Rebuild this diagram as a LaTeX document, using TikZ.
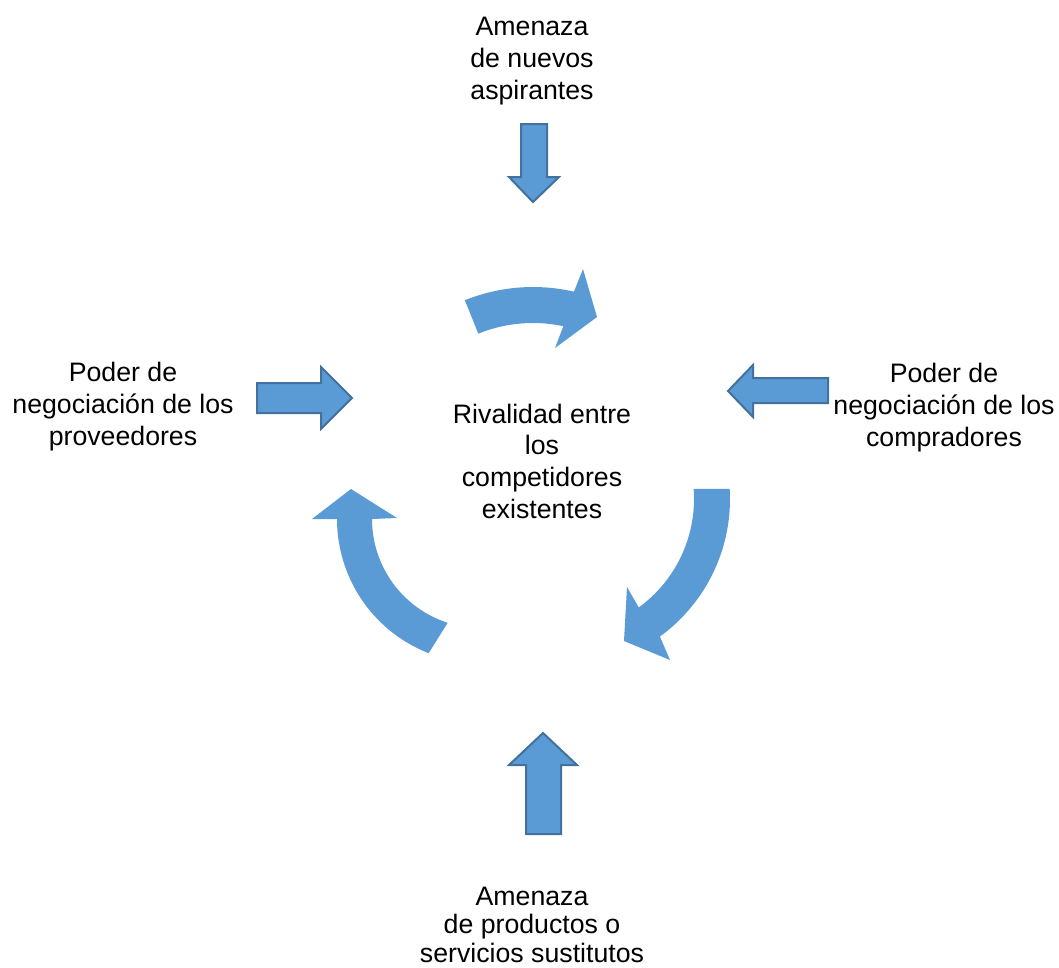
\documentclass[tikz,border=0pt]{standalone}
\usepackage{fontspec}
\setmainfont{Liberation Sans}
\definecolor{arrowfill}{HTML}{5B9BD5}
\definecolor{arrowline}{HTML}{41719C}
\begin{document}
\begin{tikzpicture}[x=1pt,y=-1pt,
  lbl/.style={font=\fontsize{26.7}{31.6}\selectfont, align=center, inner sep=0pt, anchor=base},
  blockarrow/.style={fill=arrowfill, draw=arrowline, line width=2pt, line join=miter},
  curvedarrow/.style={fill=arrowfill}]
\useasboundingbox (0,0) rectangle (1059,967);

% the five forces (positions give the baseline of each last line)
\node[lbl] (rival) at (542,518) {Rivalidad entre\\los\\competidores\\existentes};
\node[lbl] (entrants) at (532,99) {Amenaza\\de nuevos\\aspirantes};
\node[lbl] (suppliers) at (123,445) {Poder de\\negociación de los\\proveedores};
\node[lbl] (buyers) at (944,446) {Poder de\\negociación de los\\compradores};
\node[lbl, font=\fontsize{26.7}{28.5}\selectfont] (substitutes) at (532,962) {Amenaza\\de productos o\\servicios sustitutos};

% straight block arrows pointing inwards
\draw[blockarrow] (521,124) -- (547,124) -- (547,177) -- (559,177) -- (533,202) -- (509,177) -- (521,177) -- cycle;
\draw[blockarrow] (257,383) -- (321,383) -- (321,367) -- (352,398) -- (321,429) -- (321,413) -- (257,413) -- cycle;
\draw[blockarrow] (828,378) -- (753,378) -- (753,365) -- (728,391) -- (753,417) -- (753,403) -- (828,403) -- cycle;
\draw[blockarrow] (526,834) -- (526,765) -- (509,765) -- (543,733) -- (577,765) -- (561,765) -- (561,834) -- cycle;

% curved arrows circling the rivalry
\fill[curvedarrow] plot[domain=-112:-77, samples=40] ({533+182*cos(\x)},{469+182*sin(\x)})
  -- (583,269) -- (597,317) -- (555,348)
  -- plot[domain=-78:-112, samples=40] ({533+146*cos(\x)},{469+146*sin(\x)}) -- cycle;
\fill[curvedarrow] plot[domain=-3.4:54, samples=40] ({560+170*cos(\x)},{499+170*sin(\x)})
  -- (670,660) -- (624,641) -- (627,587)
  -- plot[domain=54:-4.3, samples=40] ({560+134*cos(\x)},{499+134*sin(\x)}) -- cycle;
\fill[curvedarrow] plot[domain=111.3:180, samples=40] ({481+144*cos(\x)},{519+144*sin(\x)})
  -- (312,519) -- (351,489) -- (397,518)
  -- plot[domain=180:107.8, samples=40] ({481+109*cos(\x)},{519+109*sin(\x)}) -- cycle;
\end{tikzpicture}
\end{document}
